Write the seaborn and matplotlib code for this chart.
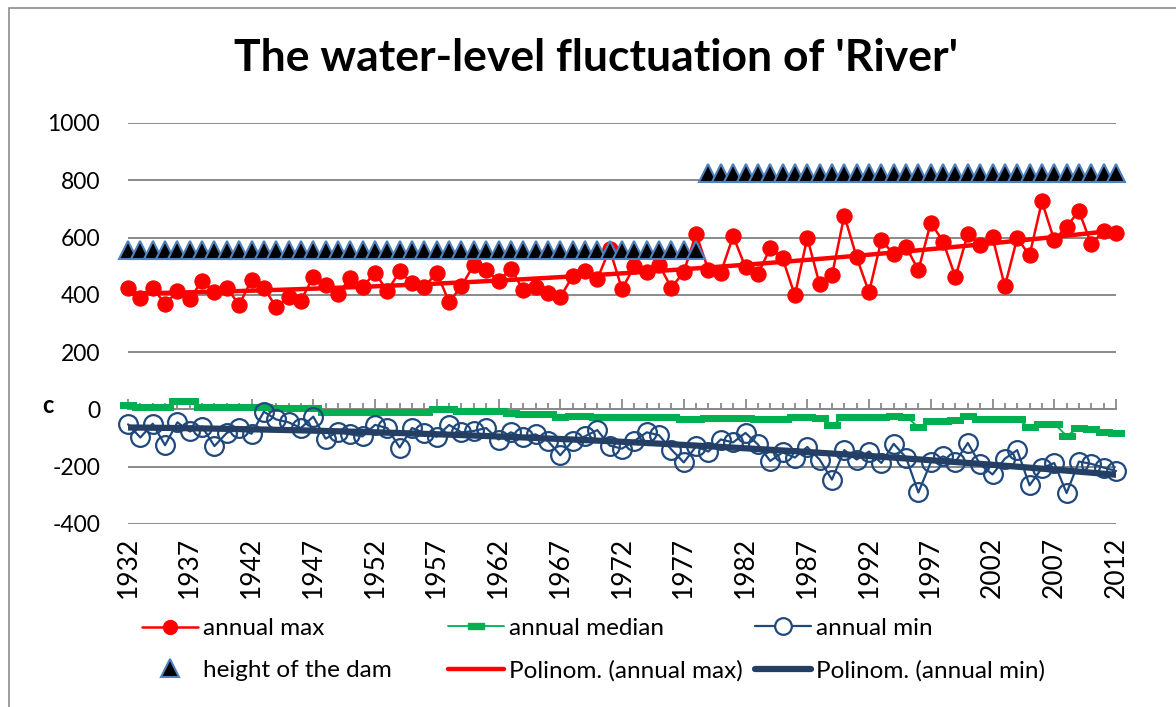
import numpy as np
import pandas as pd
import matplotlib.pyplot as plt
import seaborn as sns
from matplotlib.lines import Line2D
from matplotlib.patches import Rectangle

# values
years = list(range(1932, 2013))

annual_max = [425, 390, 425, 368, 412, 385, 450, 410, 425, 365,
              452, 425, 357, 393, 380, 463, 435, 402, 460, 428,
              477, 413, 482, 440, 427, 478, 375, 430, 505, 488,
              447, 492, 416, 427, 405, 392, 465, 482, 455, 560,
              420, 500, 480, 505, 425, 480, 613, 486, 477, 605,
              496, 472, 563, 528, 398, 600, 437, 468, 677, 531,
              409, 591, 542, 568, 486, 652, 586, 462, 613, 574,
              601, 430, 598, 538, 726, 591, 638, 693, 576, 624,
              617]

annual_median = [17, 7, 7, 7, 28, 28, 10, 10, 8, 8,
                 7, 7, 6, 6, 6, 5, -8, -8, -8, -8,
                 -8, -9, -9, -9, -9, 0, 0, -6, -6, -6,
                 -7, -14, -15, -15, -16, -25, -24, -24, -25, -25,
                 -25, -26, -26, -27, -28, -35, -33, -30, -30, -30,
                 -31, -32, -33, -32, -28, -27, -30, -55, -26, -25,
                 -25, -25, -24, -25, -62, -40, -40, -38, -22, -32,
                 -33, -33, -35, -62, -50, -50, -92, -65, -68, -78,
                 -82]

annual_min = [-52, -98, -50, -125, -45, -77, -60, -128, -82, -65,
              -85, -8, -35, -45, -65, -25, -102, -78, -87, -94,
              -54, -65, -133, -65, -82, -95, -54, -80, -75, -65,
              -105, -80, -97, -87, -110, -160, -110, -94, -72, -126,
              -137, -110, -80, -90, -140, -185, -129, -147, -105, -115,
              -82, -122, -180, -150, -168, -131, -175, -245, -142, -175,
              -147, -187, -120, -168, -290, -185, -164, -183, -117, -192,
              -227, -172, -142, -265, -205, -187, -292, -182, -190, -203,
              -215]

dam_height = [555] * 47 + [826] * 34

label_years = list(range(1932, 2013, 5))

df = pd.DataFrame({'year': years, 'max': annual_max, 'median': annual_median,
                   'min': annual_min, 'dam': dam_height})

# second order polynomial trendlines (like Excel "Polinom.")
df['trend_max'] = np.polyval(np.polyfit(df.year, df['max'], 2), df.year)
df['trend_min'] = np.polyval(np.polyfit(df.year, df['min'], 2), df.year)

RED = '#ff0000'
GREEN = '#00b050'
NAVY = '#1f497d'
NAVY_DARK = '#243f63'
GRID = '#8a8a8a'

sns.set_theme(style='white')
plt.rcParams['font.family'] = ['Lato', 'DejaVu Sans']
plt.rcParams['text.color'] = 'black'
plt.rcParams['xtick.labelcolor'] = 'black'
plt.rcParams['ytick.labelcolor'] = 'black'
plt.rcParams['axes.unicode_minus'] = False

fig = plt.figure(figsize=(11.76, 7.07), dpi=100)
ax = fig.add_axes([128 / 1176, 1 - 524 / 707, (1116 - 128) / 1176, (524 - 123) / 707])

dash = [(-1, -0.38), (1, -0.38), (1, 0.38), (-1, 0.38), (-1, -0.38)]

sns.lineplot(data=df, x='year', y='max', ax=ax, color=RED, lw=1.8, marker='o',
             markersize=11, markeredgecolor=RED, clip_on=False, zorder=3)
sns.lineplot(data=df, x='year', y='median', ax=ax, color=GREEN, lw=1.3, marker=dash,
             markersize=11.5, markeredgecolor=GREEN, clip_on=False, zorder=3)
sns.lineplot(data=df, x='year', y='min', ax=ax, color=NAVY, lw=1.6, marker='o',
             markersize=13.5, markerfacecolor='none', markeredgecolor=NAVY,
             markeredgewidth=1.6, clip_on=False, zorder=4)
sns.lineplot(data=df, x='year', y='dam', ax=ax, linestyle='', marker='^', color='black',
             markersize=12.5, markeredgecolor='#4f81bd', markeredgewidth=1.5,
             clip_on=False, zorder=5)
sns.lineplot(data=df, x='year', y='trend_max', ax=ax, color=RED, lw=3.2, zorder=6)
sns.lineplot(data=df, x='year', y='trend_min', ax=ax, color=NAVY_DARK, lw=4.5, zorder=6)

ax.set_xlim(1932, 2012)
ax.set_ylim(-400, 1000)
ax.set_yticks(range(-400, 1001, 200))
ax.set_xticks(label_years)
ax.set_xticklabels([str(y) for y in label_years], rotation=90, fontsize=19)
ax.tick_params(axis='x', length=0, pad=9)
ax.tick_params(axis='y', length=0, pad=20, labelsize=16.5)
ax.set_xlabel('')
ax.set_ylabel('')
for s in ax.spines.values():
    s.set_visible(False)
ax.grid(axis='y', color=GRID, lw=1.4)
ax.grid(axis='x', visible=False)
ax.set_axisbelow(True)

# category axis crossing at zero, tick marks pointing up
sec = ax.secondary_xaxis(400 / 1400)
sec.set_xticks(label_years)
sec.set_xticks(years, minor=True)
sec.tick_params(which='major', direction='in', length=7, width=1.3, color=GRID, labelbottom=False)
sec.tick_params(which='minor', direction='in', length=4.5, width=1.3, color=GRID, labelbottom=False)
sec.spines['bottom'].set_color(GRID)
sec.spines['bottom'].set_linewidth(1.4)

fig.text(48 / 1176, 1 - 406 / 707, 'c', fontsize=17, fontweight='bold', ha='center', va='center')
fig.text(596 / 1176, 1 - 58 / 707, "The water-level fluctuation of 'River'",
         fontsize=32, fontweight='bold', ha='center', va='center')

# legend, three columns placed like the Excel one
h_max = Line2D([], [], color=RED, lw=1.8, marker='o', markersize=10)
h_med = Line2D([], [], color=GREEN, lw=1.3, marker=dash, markersize=11)
h_min = Line2D([], [], color=NAVY, lw=1.6, marker='o', markersize=12,
               markerfacecolor='white', markeredgewidth=1.6)
h_dam = Line2D([], [], linestyle='', marker='^', color='black', markersize=12.5,
               markeredgecolor='#4f81bd', markeredgewidth=1.5)
h_tmax = Line2D([], [], color=RED, lw=3.2)
h_tmin = Line2D([], [], color=NAVY_DARK, lw=4.5)

columns = [(142, [h_max, h_dam], ['annual max', 'height of the dam']),
           (448, [h_med, h_tmax], ['annual median', 'Polinom. (annual max)']),
           (755, [h_min, h_tmin], ['annual min', 'Polinom. (annual min)'])]
for x0, hs, labs in columns:
    fig.legend(hs, labs, loc='center left', bbox_to_anchor=(x0 / 1176, 1 - 649.5 / 707),
               frameon=False, fontsize=17.5, borderpad=0, borderaxespad=0,
               handlelength=2.3, handletextpad=0.2, labelspacing=0.85)

fig.add_artist(Rectangle((9 / 1176, -0.1), 1.2, 1.1 - 8 / 707, transform=fig.transFigure,
                         fill=False, edgecolor='#8c8c8c', lw=1.2))

fig.savefig('out.png', dpi=100)
